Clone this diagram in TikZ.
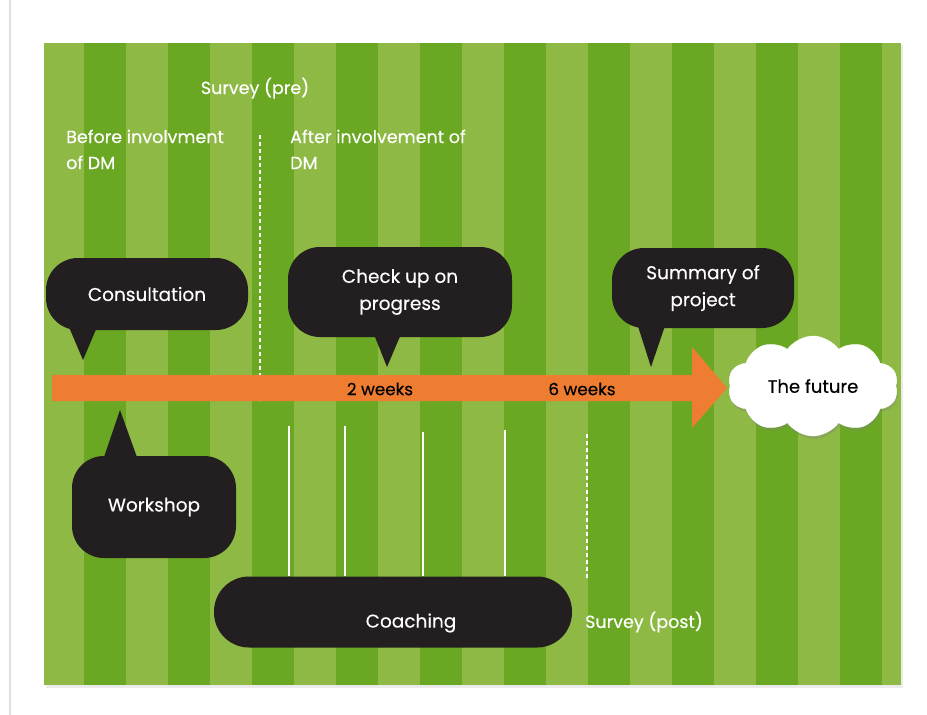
\documentclass[tikz,border=0pt]{standalone}
\usepackage{fontspec}
\setmainfont{Poppins}[FakeBold=0.3]
\usetikzlibrary{calc,shapes.symbols,shadows}
\definecolor{grasslight}{HTML}{8DB944}
\definecolor{grassdark}{HTML}{6AA823}
\definecolor{arrowc}{HTML}{EE7D31}
\definecolor{bubblec}{HTML}{231F20}
\tikzset{
  bubble/.style={fill=bubblec, text=white, rounded corners=32pt, align=center, inner sep=0pt,
    font=\fontsize{18.5}{27}\selectfont},
  note/.style={text=white, align=left, anchor=base west, inner sep=0pt, font=\fontsize{17.5}{26}\selectfont},
  weeks/.style={text=black, inner sep=0pt, font=\fontsize{16.8}{18}\selectfont},
  tick/.style={draw=white, line width=1.3pt},
  tickdash/.style={draw=white, line width=1.6pt, dash pattern=on 4pt off 3pt},
}

\begin{document}
\begin{tikzpicture}[x=1pt, y=-1pt]
\useasboundingbox (0,0) rectangle (927,715);
\fill[black!12] (9,0) rectangle (11,715);
% field
\fill[black!8] (46,45) rectangle (903,688);
\fill[grasslight] (44,43) rectangle (901,685);
\foreach \i in {0,...,9}
  \fill[grassdark] ({84+84*\i},43) rectangle ++(42,642);
% headings
\node[note, anchor=base] (pre) at (255,94) {Survey (pre)};
\node[note] (before) at (66,169) {Before involvment\\of DM};
\node[note] (after) at (290,169) {After involvement of\\DM};
\draw[tickdash] (260,135) -- (260,401);
% timeline
\fill[arrowc] (52,375) -- (692,375) -- (692,347) -- (727,388) -- (692,428) -- (692,401) -- (52,401) -- cycle;
\node[weeks] (two) at (380,389) {2 weeks};
\node[weeks] (six) at (582,389) {6 weeks};
\node[cloud, cloud puffs=10, cloud puff arc=110, cloud ignores aspect, fill=white, draw=white, inner sep=0pt,
  drop shadow={opacity=0.3, shadow xshift=1pt, shadow yshift=-3pt},
  minimum width=170pt, minimum height=100pt, font=\fontsize{18}{20}\selectfont] (future) at (813,386) {The future};
% bubbles above
\node[bubble, minimum width=202pt, minimum height=72pt] (consult) at (147,294) {Consultation};
\coordinate (consult tip) at (83,360);
\fill[bubblec] ($(consult tip)+(-17,-40)$) -- (consult tip) -- ($(consult tip)+(17,-40)$) -- cycle;
\node[bubble, minimum width=224pt, minimum height=90pt] (check) at (400,292) {Check up on\\progress};
\coordinate (check tip) at (387,367);
\fill[bubblec] ($(check tip)+(-16,-40)$) -- (check tip) -- ($(check tip)+(17,-40)$) -- cycle;
\node[bubble, minimum width=182pt, minimum height=80pt] (summary) at (703,288) {Summary of\\project};
\coordinate (summary tip) at (651,367);
\fill[bubblec] ($(summary tip)+(-16,-50)$) -- (summary tip) -- ($(summary tip)+(17,-50)$) -- cycle;
% bubbles below
\node[bubble, minimum width=164pt, minimum height=102pt] (workshop) at (154,507) {Workshop};
\coordinate (workshop tip) at (120,410);
\fill[bubblec] ($(workshop tip)+(-17,50)$) -- (workshop tip) -- ($(workshop tip)+(18,50)$) -- cycle;
\node[bubble, minimum width=358pt, minimum height=71pt, rounded corners=35pt] (coach) at (393,612) {};
\node[bubble, fill=none] (coachtext) at (411,623) {Coaching};
\foreach \x/\y in {289/426, 345/426, 423/432, 505/430}
  \draw[tick] (\x,\y) -- (\x,\y |- coach.north);
\draw[tickdash] (587,434) -- (587,580);
\node[note, anchor=west] (post) at (585,622) {Survey (post)};
\end{tikzpicture}
\end{document}
